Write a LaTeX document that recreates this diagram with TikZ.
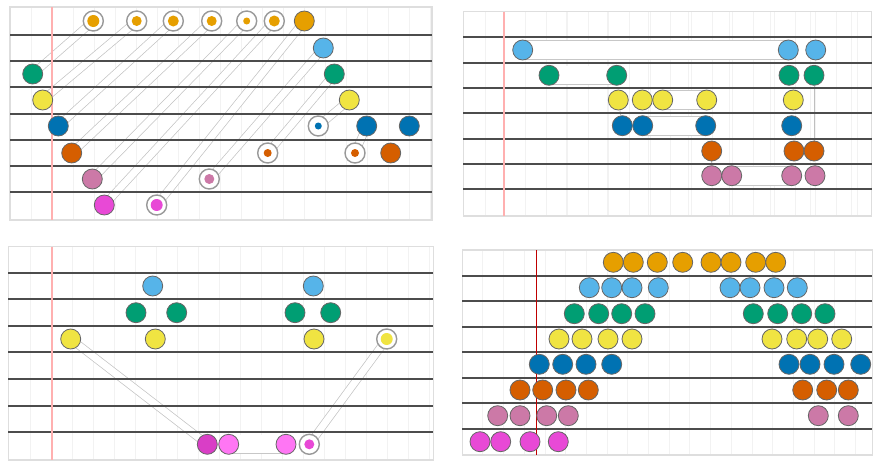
\documentclass[tikz,border=0pt]{standalone}
\usepackage{xcolor}
\definecolor{beadorange}{HTML}{E69F00}
\definecolor{beadsky}{HTML}{56B4E9}
\definecolor{beadgreen}{HTML}{009E73}
\definecolor{beadyellow}{HTML}{F0E442}
\definecolor{beadblue}{HTML}{0072B2}
\definecolor{beadverm}{HTML}{D55E00}
\definecolor{beadpink}{HTML}{CC79A7}
\definecolor{beadmag}{HTML}{E849D6}
\definecolor{beadmagdark}{HTML}{D93EC6}
\definecolor{beadmaglight}{HTML}{FF76F4}
\definecolor{marginpink}{HTML}{FFB0B0}
\pgfdeclarelayer{pipes}
\pgfsetlayers{pipes,main}

\begin{document}
\begin{tikzpicture}[x=1pt, y=-1pt,
    dot/.style={circle, draw=black!60, line width=0.8, minimum size=20, inner sep=0},
    ring/.style={circle, draw=black!40, line width=1.4, fill=white, minimum size=20, inner sep=0},
    lane/.style={draw=black!70, line width=1.8},
    frame/.style={draw=black!13, line width=1.5},
    margin/.style={draw=marginpink, line width=1.7},
    gridline/.style={draw=black!5, line width=0.6},
    pipe/.style={draw=black!24, line width=0.7, double=white, double distance=7},
    band/.style={draw=black!22, line width=0.8, double=white, double distance=18},
    link/.style={draw=black!25, line width=0.8}]

    \useasboundingbox (0,0) rectangle (887,471);

    % faint grid
    \begin{pgfonlayer}{pipes}
        \foreach \x in {31,73,...,431} \draw[gridline] (\x,7) -- (\x,220);
        \foreach \x in {94,115,...,431} \draw[gridline] (\x,7) -- (\x,220);
        \foreach \x in {485,525.7,...,871} \draw[gridline] (\x,12) -- (\x,216);
        \foreach \x in {546.4,567.1,...,871} \draw[gridline] (\x,12) -- (\x,216);
        \foreach \x in {30,72,...,433} \draw[gridline] (\x,247) -- (\x,460);
        \foreach \x in {93,114,...,433} \draw[gridline] (\x,247) -- (\x,460);
        \foreach \x in {482.7,503.4,524.1} \draw[gridline] (\x,250) -- (\x,455);
        \foreach \x in {544.8,565.5,...,872} \draw[gridline] (\x,250) -- (\x,455);
    \end{pgfonlayer}

    % frames and lanes
    \draw[frame] (10,7) rectangle (432,220);
    \draw[frame] (463.3,11.7) rectangle (871.7,216);
    \draw[frame] (8.3,246.7) rectangle (433.3,460);
    \draw[frame] (462.3,250) rectangle (872.3,455);
    \foreach \y in {34.7,61,87.3,113.7,140,166,192.3} \draw[lane] (10,\y) -- (432,\y);
    \foreach \y in {37.3,62.7,88,113.3,138.7,164,189.3} \draw[lane] (463.3,\y) -- (871.7,\y);
    \foreach \y in {273.3,299.3,325.7,352.3,379,405.7,432.3} \draw[lane] (8.3,\y) -- (433.3,\y);
    \foreach \y in {275.7,301,326.7,352.3,377.7,403.3,429} \draw[lane] (462.3,\y) -- (872.3,\y);
    \draw[margin] (51.7,7) -- (51.7,220);
    \draw[margin] (504.3,11.7) -- (504.3,216);
    \draw[margin] (51.7,246.7) -- (51.7,460);
    \draw[margin, draw=red!75!black, line width=1.2] (536.7,250) -- (536.7,455);

    % top left
    \node[ring] (a-o1) at (93.3,21) {};
    \fill[beadorange] (a-o1) circle (6pt);
    \node[ring] (a-o2) at (136.7,21) {};
    \fill[beadorange] (a-o2) circle (5pt);
    \node[ring] (a-o3) at (173.3,21) {};
    \fill[beadorange] (a-o3) circle (5.5pt);
    \node[ring] (a-o4) at (211.7,21) {};
    \fill[beadorange] (a-o4) circle (5pt);
    \node[ring] (a-o5) at (246.7,21) {};
    \fill[beadorange] (a-o5) circle (3.5pt);
    \node[ring] (a-o6) at (274.3,21) {};
    \fill[beadorange] (a-o6) circle (5.5pt);
    \node[dot, fill=beadorange] (a-o7) at (304.3,21) {};
    \node[dot, fill=beadsky] (a-s1) at (323.3,48) {};
    \node[dot, fill=beadgreen] (a-g1) at (32.7,74) {};
    \node[dot, fill=beadgreen] (a-g2) at (334.3,74) {};
    \node[dot, fill=beadyellow] (a-y1) at (42.7,100) {};
    \node[dot, fill=beadyellow] (a-y2) at (349.3,100) {};
    \node[dot, fill=beadblue] (a-b1) at (58.3,126) {};
    \node[ring] (a-b2) at (318.3,126) {};
    \fill[beadblue] (a-b2) circle (3.5pt);
    \node[dot, fill=beadblue] (a-b3) at (366.7,126) {};
    \node[dot, fill=beadblue] (a-b4) at (409.3,126) {};
    \node[dot, fill=beadverm] (a-v1) at (71.7,153) {};
    \node[ring] (a-v2) at (267.7,153) {};
    \fill[beadverm] (a-v2) circle (4pt);
    \node[ring] (a-v3) at (355,153) {};
    \fill[beadverm] (a-v3) circle (4pt);
    \node[dot, fill=beadverm] (a-v4) at (390.7,153) {};
    \node[dot, fill=beadpink] (a-p1) at (92.3,179) {};
    \node[ring] (a-p2) at (209.3,179) {};
    \fill[beadpink] (a-p2) circle (5pt);
    \node[dot, fill=beadmag] (a-m1) at (104.3,205) {};
    \node[ring] (a-m2) at (156.7,205) {};
    \fill[beadmag] (a-m2) circle (6pt);

    % top right
    \node[dot, fill=beadsky] (b-s1) at (522.7,50) {};
    \node[dot, fill=beadsky] (b-s2) at (788.3,50) {};
    \node[dot, fill=beadsky] (b-s3) at (815.7,50) {};
    \node[dot, fill=beadgreen] (b-g1) at (549,75.3) {};
    \node[dot, fill=beadgreen] (b-g2) at (616.7,75.3) {};
    \node[dot, fill=beadgreen] (b-g3) at (789,75.3) {};
    \node[dot, fill=beadgreen] (b-g4) at (814,75.3) {};
    \node[dot, fill=beadyellow] (b-y1) at (618.3,100) {};
    \node[dot, fill=beadyellow] (b-y2) at (642.3,100) {};
    \node[dot, fill=beadyellow] (b-y3) at (662.7,100) {};
    \node[dot, fill=beadyellow] (b-y4) at (706.7,100) {};
    \node[dot, fill=beadyellow] (b-y5) at (793.3,100) {};
    \node[dot, fill=beadblue] (b-b1) at (622.3,125.7) {};
    \node[dot, fill=beadblue] (b-b2) at (642.7,125.7) {};
    \node[dot, fill=beadblue] (b-b3) at (705.7,125.7) {};
    \node[dot, fill=beadblue] (b-b4) at (791.7,125.7) {};
    \node[dot, fill=beadverm] (b-v1) at (711.7,151) {};
    \node[dot, fill=beadverm] (b-v2) at (794,151) {};
    \node[dot, fill=beadverm] (b-v3) at (814,151) {};
    \node[dot, fill=beadpink] (b-p1) at (711.7,175.7) {};
    \node[dot, fill=beadpink] (b-p2) at (731.7,175.7) {};
    \node[dot, fill=beadpink] (b-p3) at (791.7,175.7) {};
    \node[dot, fill=beadpink] (b-p4) at (815,175.7) {};

    % bottom left
    \node[dot, fill=beadsky] (c-s1) at (152.7,286) {};
    \node[dot, fill=beadsky] (c-s2) at (313.3,286) {};
    \node[dot, fill=beadgreen] (c-g1) at (136,312.7) {};
    \node[dot, fill=beadgreen] (c-g2) at (176.7,312.7) {};
    \node[dot, fill=beadgreen] (c-g3) at (295,312.7) {};
    \node[dot, fill=beadgreen] (c-g4) at (330.7,312.7) {};
    \node[dot, fill=beadyellow] (c-y1) at (70.7,339) {};
    \node[dot, fill=beadyellow] (c-y2) at (155.3,339) {};
    \node[dot, fill=beadyellow] (c-y3) at (314,339) {};
    \node[ring] (c-y4) at (386.7,339) {};
    \fill[beadyellow] (c-y4) circle (6pt);
    \node[dot, fill=beadmagdark] (c-m1) at (207.3,444.3) {};
    \node[dot, fill=beadmaglight] (c-m2) at (228.7,444.3) {};
    \node[dot, fill=beadmaglight] (c-m3) at (286,444.3) {};
    \node[ring] (c-m4) at (309.3,444.3) {};
    \fill[beadmag] (c-m4) circle (5pt);

    % bottom right
    \foreach \x [count=\i] in {613.3,633.3,657.3,682.7,711,731,755.7,775.7}
        \node[dot, fill=beadorange] (d-o\i) at (\x,262.3) {};
    \foreach \x [count=\i] in {589.3,611.7,632,658.3,730,750,774,797.3}
        \node[dot, fill=beadsky] (d-s\i) at (\x,287.7) {};
    \foreach \x [count=\i] in {574.3,598.7,621.7,645,753.3,777.7,801.7,825}
        \node[dot, fill=beadgreen] (d-g\i) at (\x,313.7) {};
    \foreach \x [count=\i] in {559,582,608,632,772,796.7,817.7,841.7}
        \node[dot, fill=beadyellow] (d-y\i) at (\x,339) {};
    \foreach \x [count=\i] in {539.3,562.7,586,611.7,789,810,834,860.7}
        \node[dot, fill=beadblue] (d-b\i) at (\x,364.3) {};
    \foreach \x [count=\i] in {520,542.7,566,588.3,802.7,826.7,848.3}
        \node[dot, fill=beadverm] (d-v\i) at (\x,390) {};
    \foreach \x [count=\i] in {497.7,520,546.7,568.3,818.3,848.3}
        \node[dot, fill=beadpink] (d-p\i) at (\x,415.7) {};
    \foreach \x [count=\i] in {480,500.7,530,558.3}
        \node[dot, fill=beadmag] (d-m\i) at (\x,441.7) {};

    % pipes between beads
    \begin{pgfonlayer}{pipes}
        \draw[pipe] (a-g1.center) -- (a-o1.center);
        \draw[pipe] (a-y1.center) -- (a-o2.center);
        \draw[pipe] (a-b1.center) -- (a-o3.center);
        \draw[pipe] (a-v1.center) -- (a-o4.center);
        \draw[pipe] (a-p1.center) -- (a-o5.center);
        \draw[pipe] (a-m1.center) -- (a-o6.center);
        \draw[pipe] (a-m2.center) -- (a-o7.center);
        \draw[pipe] (a-p2.center) -- (a-s1.center);
        \draw[pipe] (a-v2.center) -- (a-g2.center);
        \draw[pipe] (a-b2.center) -- (a-y2.center);
        \draw[pipe] (a-v3.center) -- (a-b3.center);
        \draw[band] (b-s1.center) -- (b-s2.center);
        \draw[band] (b-g1.center) -- (b-g2.center);
        \draw[band] (b-y3.center) -- (b-y4.center);
        \draw[band] (b-b2.center) -- (b-b3.center);
        \draw[band] (b-p2.center) -- (b-p3.center);
        \draw[link] (b-g4) -- (b-v3);
        \draw[link] (b-y1) -- (b-b1);
        \draw[link] (b-v1) -- (b-p1);
        \draw[pipe] (c-y1.center) -- (c-m1.center);
        \draw[pipe] (c-y4.center) -- (c-m4.center);
        \draw[band] (c-m2.center) -- (c-m3.center);
    \end{pgfonlayer}
\end{tikzpicture}
\end{document}
